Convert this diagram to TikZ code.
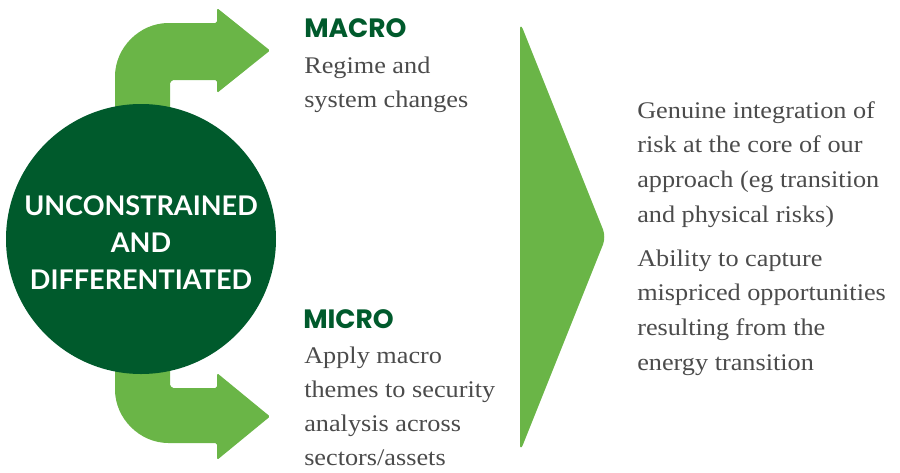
\documentclass[tikz,border=0pt]{standalone}
\usepackage{fontspec}
\setmainfont{Liberation Serif}[FakeStretch=1.1]
\newfontfamily\headfont{Poppins}
\newfontfamily\circfont{Lato}
\definecolor{lgreen}{HTML}{6AB547}
\definecolor{dgreen}{HTML}{005A2C}
\definecolor{txtgray}{HTML}{4B4B4B}
\begin{document}
\begin{tikzpicture}[x=0.75pt,y=-0.75pt,
  shapefill/.style={fill=lgreen,rounded corners=1.2pt},
  head/.style={font=\headfont\bfseries\fontsize{19.9}{24}\selectfont,text=dgreen,anchor=base west,inner sep=0pt},
  body/.style={font=\fontsize{17.9}{25.3}\selectfont,text=txtgray,anchor=base west,inner sep=0pt,align=left},
  rbody/.style={body,font=\fontsize{17.9}{25.9}\selectfont}]
\useasboundingbox (0,0) rectangle (900,472);
% top arrow
\fill[shapefill] (115,200) -- (115,78) .. controls (115,47.6) and (139.6,23) .. (170,23)
  -- (217,23) -- (217,8) -- (270,50.5) -- (217,93) -- (217,80) -- (175,80)
  .. controls (172.2,80) and (170,82.2) .. (170,85) -- (170,200) -- cycle;
% bottom arrow
\fill[shapefill] (115,280) -- (115,388) .. controls (115,418.4) and (139.6,443) .. (170,443)
  -- (217,443) -- (217,460) -- (270,416.5) -- (217,373) -- (217,388) -- (175,388)
  .. controls (172.2,388) and (170,385.8) .. (170,383) -- (170,280) -- cycle;
% big triangle
\fill[lgreen,rounded corners=6pt] (520,22) -- (606,237) -- (520,452) -- cycle;
% circle
\node[circle,fill=dgreen,minimum size=202.5pt,inner sep=0pt] (core) at (141,239) {};
\node[font=\circfont\bfseries\fontsize{20.3}{27.7}\selectfont,text=white,align=center,inner sep=0pt,anchor=base] (coretext) at (141,289)
  {UNCONSTRAINED\\AND\\DIFFERENTIATED};
% texts
\node[head] (macro) at (304,37) {MACRO};
\node[body] (macrotxt) at (304,107) {Regime and\\system changes};
\node[head] (micro) at (303,328) {MICRO};
\node[body] (microtxt) at (304,465) {Apply macro\\themes to security\\analysis across\\sectors/assets};
\node[rbody] (r1) at (637,222) {Genuine integration of\\risk at the core of our\\approach (eg transition\\and physical risks)};
\node[rbody] (r2) at (637,370) {Ability to capture\\mispriced opportunities\\resulting from the\\energy transition};
\end{tikzpicture}
\end{document}
